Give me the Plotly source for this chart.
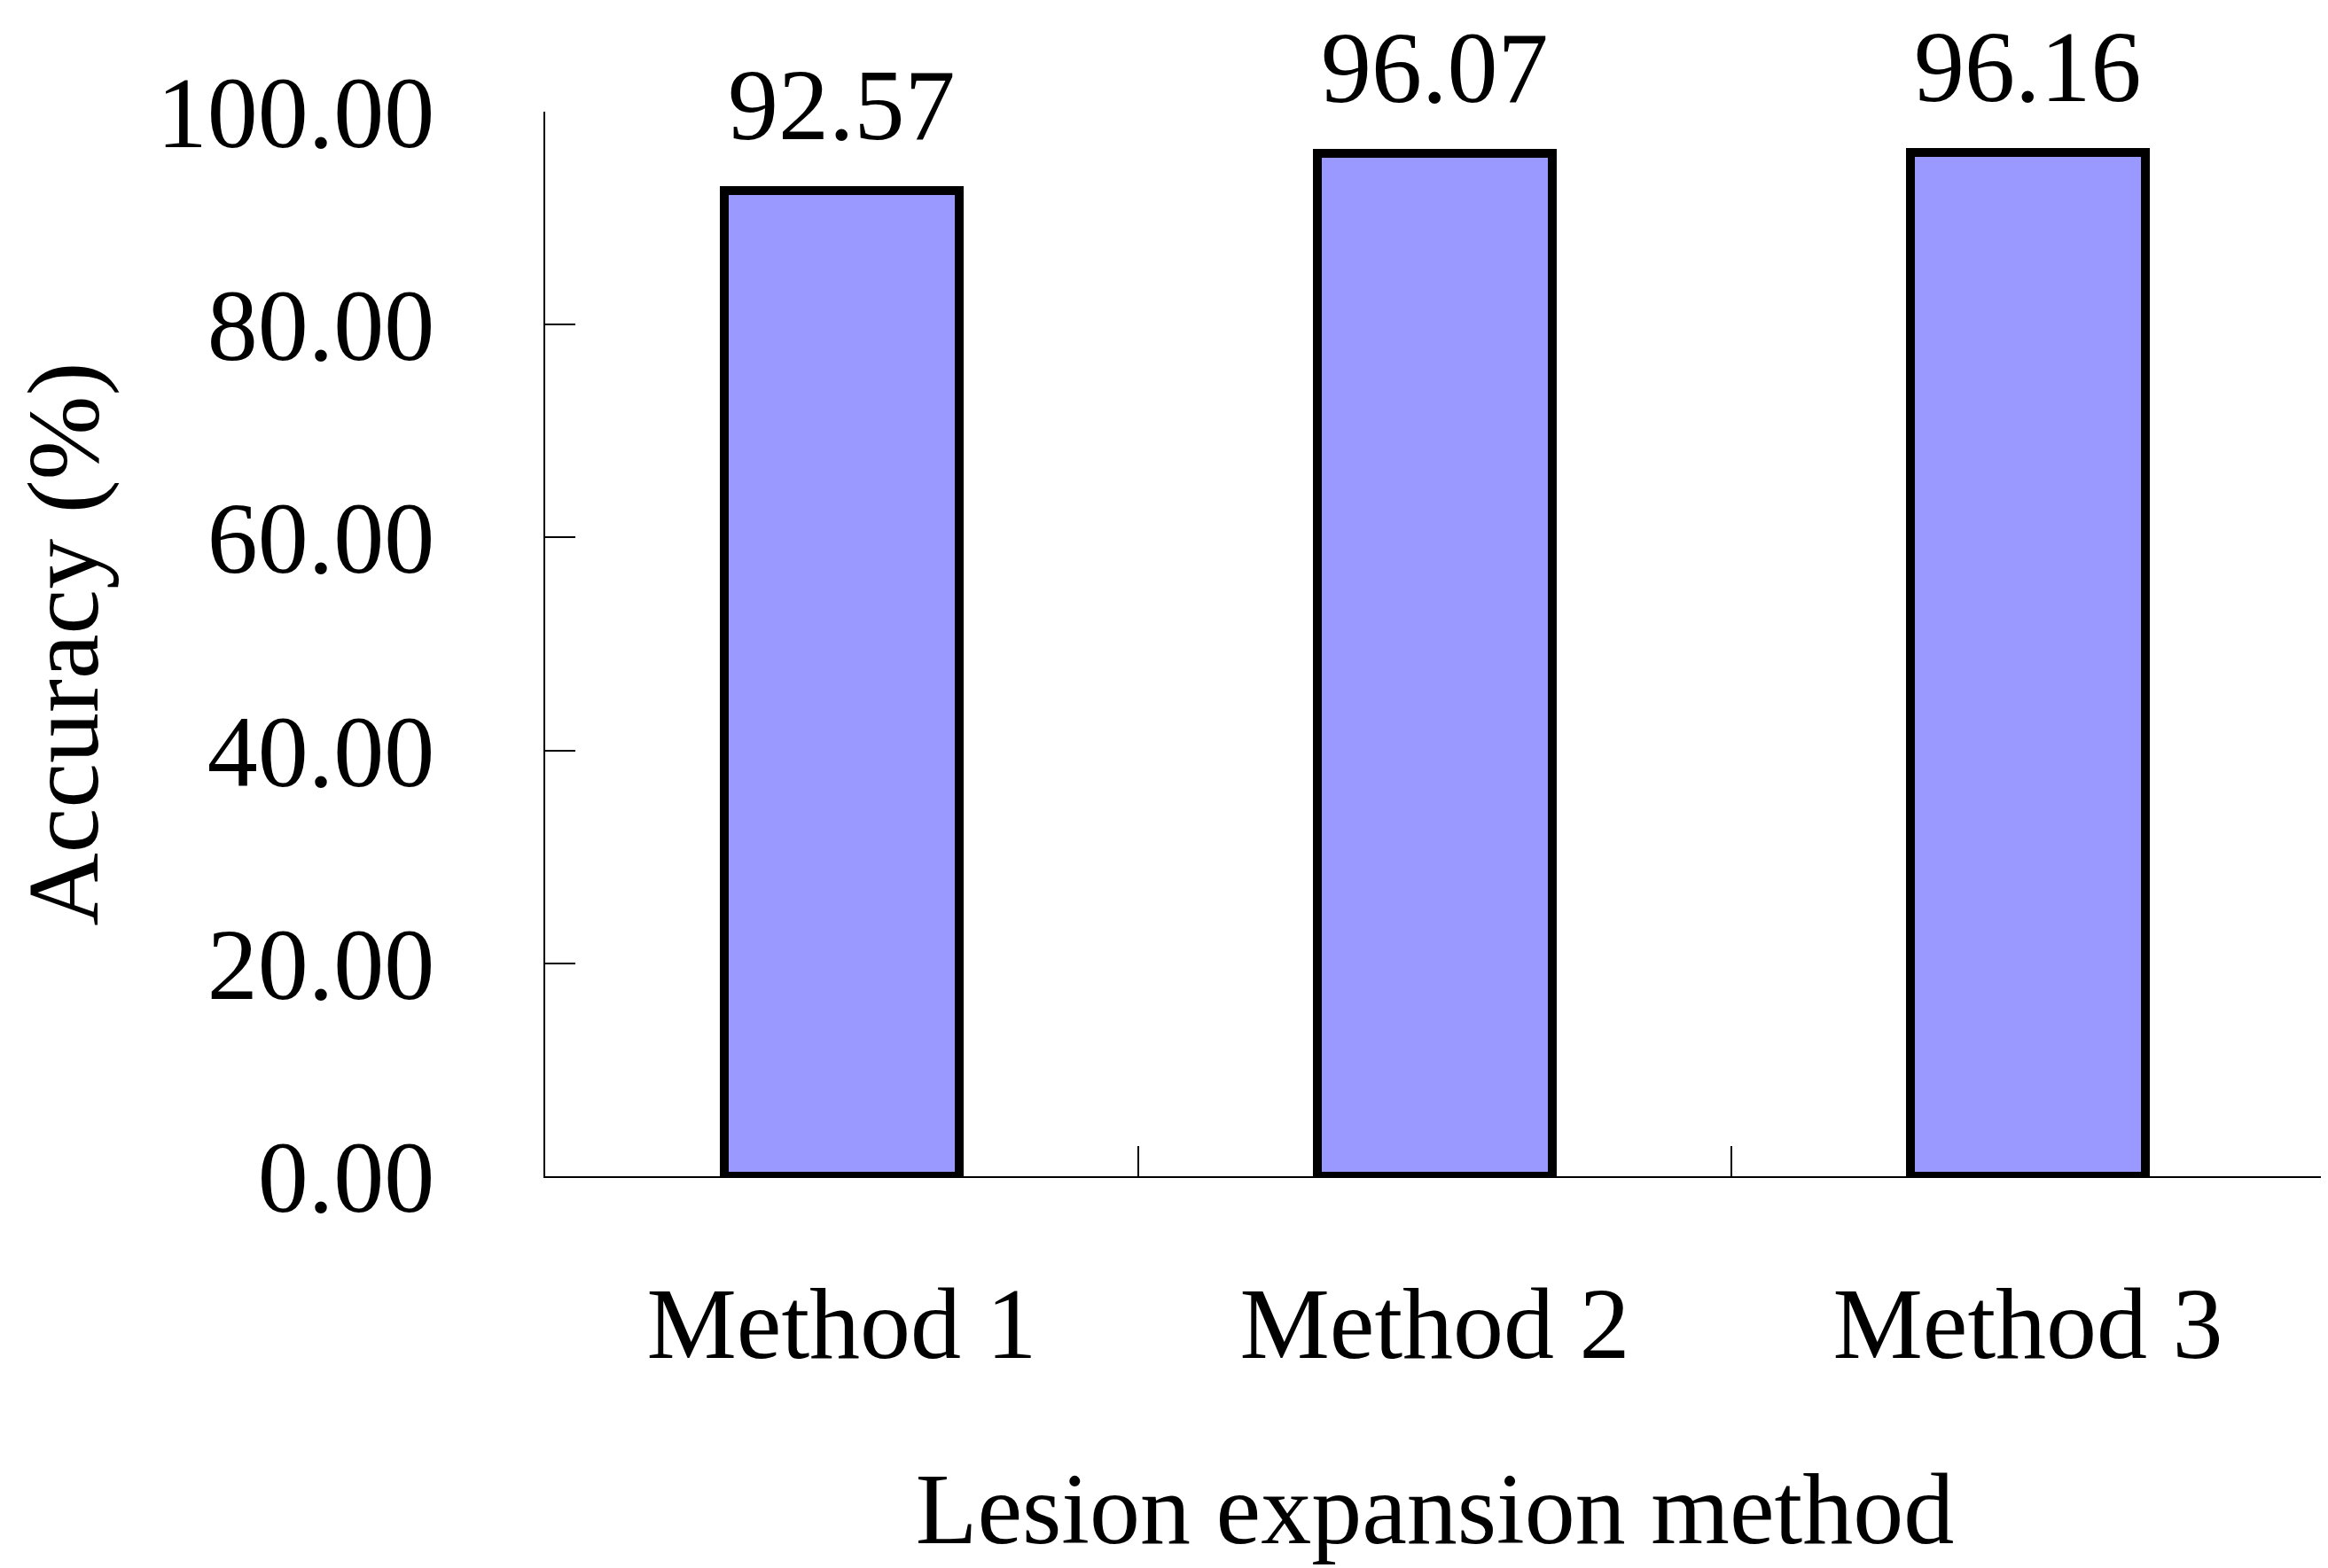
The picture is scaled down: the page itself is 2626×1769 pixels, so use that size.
import plotly.graph_objects as go

categories = ["Method 1", "Method 2", "Method 3"]
accuracy = [92.57, 96.07, 96.16]
y_ticks = [0, 20, 40, 60, 80, 100]

FONT = "Liberation Serif"
FS = 114

fig = go.Figure()
fig.add_trace(go.Bar(
    x=categories, y=accuracy, width=0.395,
    marker=dict(color="#9999FF", line=dict(color="black", width=10)),
    showlegend=False,
))

for c, v in zip(categories, accuracy):
    fig.add_annotation(x=c, y=v, text=f"{v:.2f}", showarrow=False,
                       yanchor="middle", yshift=97,
                       font=dict(family=FONT, size=FS, color="black"))

# page body has an 8px default margin, so the figure is sized to fill the rest
fig.update_layout(
    width=2618, height=1761,
    margin=dict(l=607, r=4, t=118, b=442, autoexpand=False),
    plot_bgcolor="white", paper_bgcolor="white",
    font=dict(family=FONT, size=FS, color="black"),
    bargap=0,
)
fig.update_xaxes(
    showline=True, linecolor="black", linewidth=2,
    ticks="inside", ticklen=34, tickwidth=2, tickcolor="black",
    tickson="boundaries", showgrid=False, zeroline=False,
    ticklabelstandoff=66,
    title=dict(text="Lesion expansion method", standoff=105,
               font=dict(family=FONT, size=FS)),
    tickfont=dict(family=FONT, size=FS),
)
fig.update_yaxes(
    range=[0, 100], tickvals=y_ticks, tickformat=".2f",
    showline=True, linecolor="black", linewidth=2,
    ticks="inside", ticklen=34, tickwidth=2, tickcolor="black",
    showgrid=False, zeroline=False,
    ticklabelstandoff=100,
    title=dict(text="Accuracy (%)", standoff=112,
               font=dict(family=FONT, size=FS)),
    tickfont=dict(family=FONT, size=FS),
)

fig.write_html("out.html")
